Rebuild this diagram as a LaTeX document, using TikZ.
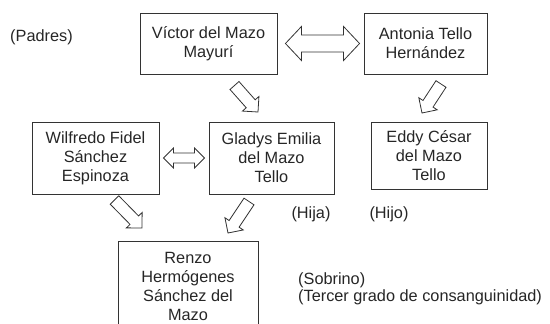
\documentclass[tikz,border=0pt]{standalone}
\usepackage{fontspec}
\setmainfont{Liberation Sans}
\usetikzlibrary{calc}
\tikzset{
  persona/.style={draw=black!80, line width=0.9pt, inner sep=0pt, align=center,
    font=\fontsize{16.3pt}{19pt}\selectfont, text=black!85},
  nota/.style={inner sep=0pt, align=left, font=\fontsize{16.3pt}{17pt}\selectfont, text=black!85},
  % hollow block arrow: shaft half width, head half width, head length
  fat/.style n args={3}{draw=black!80, line width=0.8pt, to path={
    -- ($(\tikztostart)!#1!90:(\tikztotarget)$)
    -- ($($(\tikztotarget)!#3!(\tikztostart)$)!#1!-90:(\tikztostart)$)
    -- ($($(\tikztotarget)!#3!(\tikztostart)$)!#2!-90:(\tikztostart)$)
    -- (\tikztotarget)
    -- ($($(\tikztotarget)!#3!(\tikztostart)$)!#2!90:(\tikztostart)$)
    -- ($($(\tikztotarget)!#3!(\tikztostart)$)!#1!90:(\tikztostart)$)
    -- ($(\tikztostart)!#1!-90:(\tikztotarget)$)
    -- cycle}},
  dblfat/.style n args={3}{draw=black!80, line width=0.8pt, to path={
    -- ($($(\tikztostart)!#3!(\tikztotarget)$)!#2!90:(\tikztotarget)$)
    -- ($($(\tikztostart)!#3!(\tikztotarget)$)!#1!90:(\tikztotarget)$)
    -- ($($(\tikztotarget)!#3!(\tikztostart)$)!#1!-90:(\tikztostart)$)
    -- ($($(\tikztotarget)!#3!(\tikztostart)$)!#2!-90:(\tikztostart)$)
    -- (\tikztotarget)
    -- ($($(\tikztotarget)!#3!(\tikztostart)$)!#2!90:(\tikztostart)$)
    -- ($($(\tikztotarget)!#3!(\tikztostart)$)!#1!90:(\tikztostart)$)
    -- ($($(\tikztostart)!#3!(\tikztotarget)$)!#1!-90:(\tikztotarget)$)
    -- ($($(\tikztostart)!#3!(\tikztotarget)$)!#2!-90:(\tikztotarget)$)
    -- cycle}}
}
\begin{document}
\begin{tikzpicture}[x=1pt, y=-1pt]
  \useasboundingbox (0,0) rectangle (550,324);
  \clip (0,0) rectangle (550,324);
  % people
  \node[persona, minimum width=137pt, minimum height=61pt] (victor) at (208.5,43.5)
    {V\'ictor del Mazo\\Mayur\'i};
  \node[persona, minimum width=123pt, minimum height=61pt] (antonia) at (425.5,43.5)
    {Antonia Tello\\Hern\'andez};
  \node[persona, minimum width=127pt, minimum height=72pt] (wilfredo) at (95.5,158)
    {Wilfredo Fidel\\S\'anchez\\Espinoza};
  \node[persona, minimum width=125pt, minimum height=72pt] (gladys) at (271.5,158)
    {Gladys Emilia\\del Mazo\\Tello};
  \node[persona, minimum width=116pt, minimum height=67pt] (eddy) at (429,155.5)
    {Eddy C\'esar\\del Mazo\\Tello};
  \node[persona, minimum width=140pt, minimum height=91pt] (renzo) at (188,286.5)
    {Renzo\\Herm\'ogenes\\S\'anchez del\\Mazo};
  % notes
  \node[nota] (padres) at (41.5,37) {(Padres)};
  \node[nota] (hija) at (311,214) {(Hija)};
  \node[nota] (hijo) at (389,214) {(Hijo)};
  \node[nota, anchor=north west] (sobrino) at (298,272)
    {(Sobrino)\\(Tercer grado de consanguinidad)};
  % arrow ends
  \coordinate (va) at ([xshift=8pt]victor.east);
  \coordinate (av) at ([xshift=-4pt]antonia.west);
  \coordinate (wg) at ([xshift=4pt]wilfredo.east);
  \coordinate (gw) at ([xshift=-4pt]gladys.west);
  \coordinate (vg1) at (234.5,85.5);
  \coordinate (vg2) at (258,112);
  \coordinate (ae1) at (441,84);
  \coordinate (ae2) at (422,113);
  \coordinate (wr1) at (114.5,200);
  \coordinate (wr2) at (142,228);
  \coordinate (gr1) at (249,201.5);
  \coordinate (gr2) at (228,233);
  % arrows
  \draw[dblfat={8.5pt}{17pt}{16pt}] (va) to (av);
  \draw[dblfat={5pt}{10pt}{10pt}] (wg) to (gw);
  \draw[fat={6pt}{11pt}{11pt}] (vg1) to (vg2);
  \draw[fat={6pt}{11pt}{11pt}] (ae1) to (ae2);
  \draw[fat={6pt}{11pt}{11pt}] (wr1) to (wr2);
  \draw[fat={6pt}{11pt}{11pt}] (gr1) to (gr2);
\end{tikzpicture}
\end{document}
